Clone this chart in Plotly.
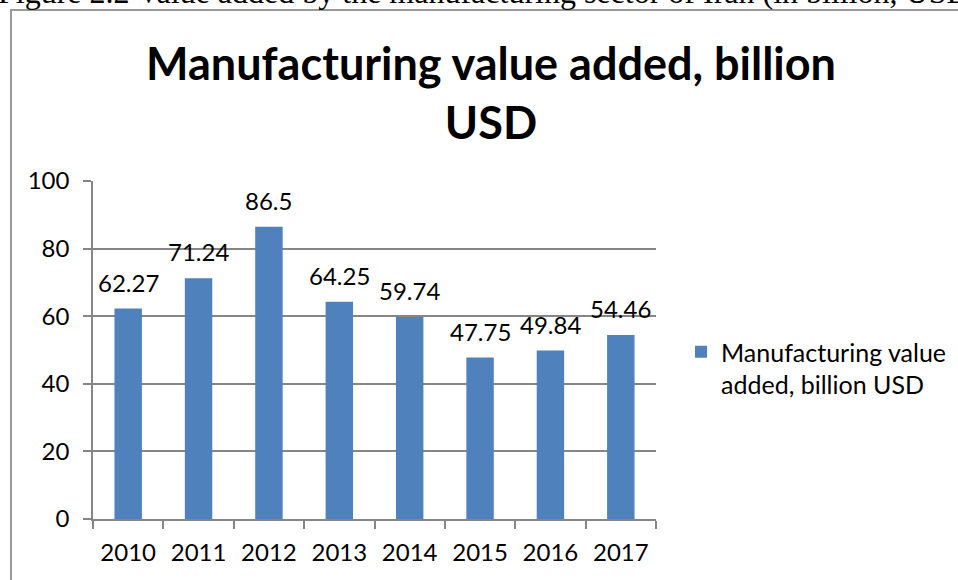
import plotly.graph_objects as go

# Manufacturing value added, billion USD
years = ["2010", "2011", "2012", "2013", "2014", "2015", "2016", "2017"]
values = [62.27, 71.24, 86.5, 64.25, 59.74, 47.75, 49.84, 54.46]
series_name = "Manufacturing value<br>added, billion USD"
y_ticks = [0, 20, 40, 60, 80, 100]

BAR = "#4F81BD"
GRID = "#868686"
FONT = "Lato"

W, H = 958, 580
L, R, T, B = 93, 302, 181, 61
plot_w = W - L - R
plot_h = H - T - B


def px_x(p):
    return (p - L) / plot_w


def px_y(p):
    return (H - B - p) / plot_h


fig = go.Figure()
fig.add_trace(go.Bar(
    x=years, y=values, name=series_name,
    marker=dict(color=BAR, line=dict(width=0)),
    width=0.39,
    showlegend=True,
))

# value labels above each bar (category index keeps them on the bars)
for i, v in enumerate(values):
    fig.add_annotation(
        x=i, y=v, text=f"{v:g}", showarrow=False,
        yanchor="bottom", yshift=10,
        font=dict(family=FONT, size=24, color="#000000"),
    )

# cropped figure caption at the very top
fig.add_annotation(
    xref="paper", yref="paper", x=px_x(-4), y=px_y(-8),
    xanchor="left", yanchor="middle", showarrow=False,
    text="Figure 2.2 Value added by the manufacturing sector of Iran (in billion, USD)",
    font=dict(family="Liberation Serif", size=32, color="#000000"),
)

# chart frame
fig.add_shape(
    type="rect", xref="paper", yref="paper",
    x0=px_x(11), x1=px_x(1000), y0=px_y(640), y1=px_y(10),
    line=dict(color="#9a9a9a", width=2), fillcolor="rgba(0,0,0,0)",
    layer="above",
)

fig.update_layout(
    width=W, height=H,
    margin=dict(l=L, r=R, t=T, b=B, pad=0, autoexpand=False),
    paper_bgcolor="white", plot_bgcolor="white",
    font=dict(family=FONT, size=24, color="#000000"),
    title=dict(
        text="Manufacturing value added, billion<br>USD",
        x=491 / W, xanchor="center", xref="container",
        y=1 - 80 / H, yanchor="middle", yref="container",
        font=dict(family=FONT, size=45, color="#000000", weight="bold"),
    ),
    bargap=0.6,
    legend=dict(
        x=px_x(681), y=px_y(329), xanchor="left", yanchor="top",
        font=dict(family=FONT, size=25, color="#000000"),
        valign="top", itemwidth=30, tracegroupgap=0,
        bgcolor="rgba(0,0,0,0)",
    ),
    xaxis=dict(
        type="category", showgrid=False,
        range=[-0.5, len(years) - 0.5],
        showline=True, linecolor=GRID, linewidth=1.5,
        ticks="outside", tickson="boundaries", ticklen=8, tickcolor=GRID, tickwidth=1.5,
        ticklabelstandoff=11,
        tickfont=dict(family=FONT, size=24, color="#000000"),
        mirror=False,
    ),
    yaxis=dict(
        range=[0, 100], tickvals=y_ticks,
        showgrid=True, gridcolor=GRID, gridwidth=1.5,
        showline=True, linecolor=GRID, linewidth=1.5,
        ticks="outside", ticklen=8, tickcolor=GRID, tickwidth=1.5,
        ticklabelstandoff=9,
        tickfont=dict(family=FONT, size=24, color="#000000"),
        zeroline=False,
    ),
)

fig.write_html("out.html")
